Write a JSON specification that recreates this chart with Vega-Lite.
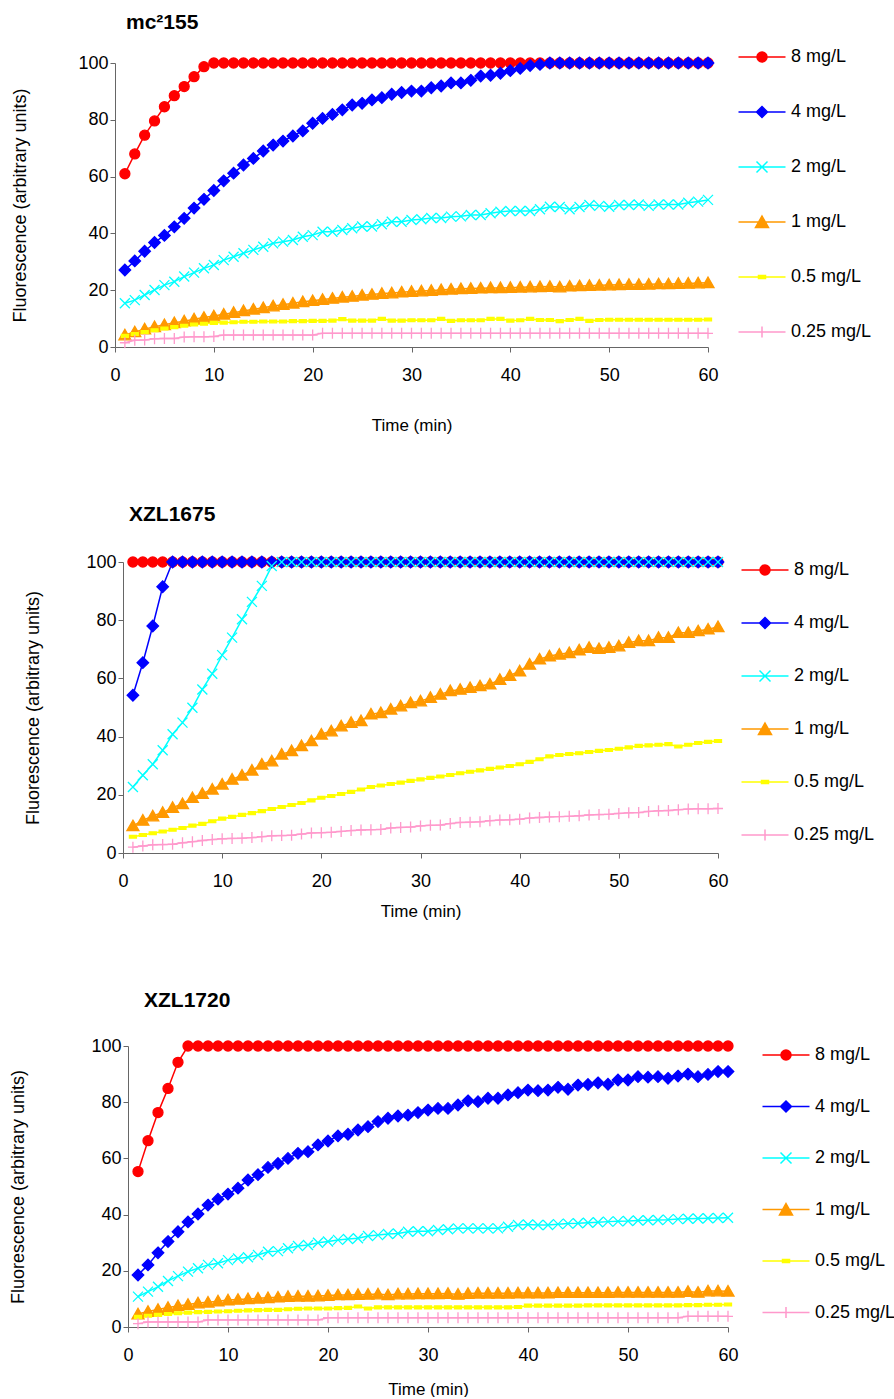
{
"$schema": "https://vega.github.io/schema/vega-lite/v6.json",
"background": "white",
"padding": {"left": 9, "top": 12, "right": 0, "bottom": 0},
"spacing": 71,
"columns": 1,
"config": {
  "font": "Liberation Sans",
  "view": {"stroke": null},
  "axis": {"labelFont": "Liberation Sans", "titleFont": "Liberation Sans", "labelFontSize": 18, "titleFontSize": 17, "titleFontWeight": "normal", "labelColor": "#000", "titleColor": "#000", "domainColor": "#666", "tickColor": "#666", "grid": false, "tickSize": 5, "labelFlush": false},
  "axisY": {"titleFontSize": 18},
  "title": {"font": "Liberation Sans", "fontSize": 21, "fontWeight": "bold", "color": "#000"}
},
"resolve": {"scale": {"x": "independent", "y": "independent", "color": "independent", "fill": "independent", "shape": "independent", "stroke": "independent"}, "legend": {"color": "independent", "fill": "independent", "shape": "independent"}},
"datasets": {
"p1": [
{"t":1,"c":"8","v":61},{"t":2,"c":"8","v":68},{"t":3,"c":"8","v":74.6},{"t":4,"c":"8","v":79.6},{"t":5,"c":"8","v":84.6},{"t":6,"c":"8","v":88.5},{"t":7,"c":"8","v":91.7},{"t":8,"c":"8","v":95.2},{"t":9,"c":"8","v":98.7},{"t":10,"c":"8","v":100},{"t":11,"c":"8","v":100},{"t":12,"c":"8","v":100},{"t":13,"c":"8","v":100},{"t":14,"c":"8","v":100},{"t":15,"c":"8","v":100},{"t":16,"c":"8","v":100},{"t":17,"c":"8","v":100},{"t":18,"c":"8","v":100},{"t":19,"c":"8","v":100},{"t":20,"c":"8","v":100},{"t":21,"c":"8","v":100},{"t":22,"c":"8","v":100},{"t":23,"c":"8","v":100},{"t":24,"c":"8","v":100},{"t":25,"c":"8","v":100},{"t":26,"c":"8","v":100},{"t":27,"c":"8","v":100},{"t":28,"c":"8","v":100},{"t":29,"c":"8","v":100},{"t":30,"c":"8","v":100},{"t":31,"c":"8","v":100},{"t":32,"c":"8","v":100},{"t":33,"c":"8","v":100},{"t":34,"c":"8","v":100},{"t":35,"c":"8","v":100},{"t":36,"c":"8","v":100},{"t":37,"c":"8","v":100},{"t":38,"c":"8","v":100},{"t":39,"c":"8","v":100},{"t":40,"c":"8","v":100},{"t":41,"c":"8","v":100},{"t":42,"c":"8","v":100},{"t":43,"c":"8","v":100},{"t":44,"c":"8","v":100},{"t":45,"c":"8","v":100},{"t":46,"c":"8","v":100},{"t":47,"c":"8","v":100},{"t":48,"c":"8","v":100},{"t":49,"c":"8","v":100},{"t":50,"c":"8","v":100},{"t":51,"c":"8","v":100},{"t":52,"c":"8","v":100},{"t":53,"c":"8","v":100},{"t":54,"c":"8","v":100},{"t":55,"c":"8","v":100},{"t":56,"c":"8","v":100},{"t":57,"c":"8","v":100},{"t":58,"c":"8","v":100},{"t":59,"c":"8","v":100},{"t":60,"c":"8","v":100},
{"t":1,"c":"4","v":27.1},{"t":2,"c":"4","v":30.3},{"t":3,"c":"4","v":33.7},{"t":4,"c":"4","v":36.8},{"t":5,"c":"4","v":39.3},{"t":6,"c":"4","v":42.3},{"t":7,"c":"4","v":45.3},{"t":8,"c":"4","v":48.9},{"t":9,"c":"4","v":52.0},{"t":10,"c":"4","v":55.1},{"t":11,"c":"4","v":58.5},{"t":12,"c":"4","v":61.2},{"t":13,"c":"4","v":64.1},{"t":14,"c":"4","v":66.4},{"t":15,"c":"4","v":69.0},{"t":16,"c":"4","v":71.1},{"t":17,"c":"4","v":72.5},{"t":18,"c":"4","v":74.3},{"t":19,"c":"4","v":76.1},{"t":20,"c":"4","v":78.8},{"t":21,"c":"4","v":80.5},{"t":22,"c":"4","v":81.9},{"t":23,"c":"4","v":83.5},{"t":24,"c":"4","v":85.2},{"t":25,"c":"4","v":85.8},{"t":26,"c":"4","v":87.0},{"t":27,"c":"4","v":87.8},{"t":28,"c":"4","v":89.0},{"t":29,"c":"4","v":89.6},{"t":30,"c":"4","v":90.1},{"t":31,"c":"4","v":90.1},{"t":32,"c":"4","v":91.3},{"t":33,"c":"4","v":91.9},{"t":34,"c":"4","v":93.0},{"t":35,"c":"4","v":93.0},{"t":36,"c":"4","v":93.9},{"t":37,"c":"4","v":95.4},{"t":38,"c":"4","v":95.7},{"t":39,"c":"4","v":96.4},{"t":40,"c":"4","v":97.3},{"t":41,"c":"4","v":98.1},{"t":42,"c":"4","v":99.1},{"t":43,"c":"4","v":99.5},{"t":44,"c":"4","v":100},{"t":45,"c":"4","v":100},{"t":46,"c":"4","v":100},{"t":47,"c":"4","v":100},{"t":48,"c":"4","v":100},{"t":49,"c":"4","v":100},{"t":50,"c":"4","v":100},{"t":51,"c":"4","v":100},{"t":52,"c":"4","v":100},{"t":53,"c":"4","v":100},{"t":54,"c":"4","v":100},{"t":55,"c":"4","v":100},{"t":56,"c":"4","v":100},{"t":57,"c":"4","v":100},{"t":58,"c":"4","v":100},{"t":59,"c":"4","v":100},{"t":60,"c":"4","v":100},
{"t":1,"c":"2","v":15.4},{"t":2,"c":"2","v":16.5},{"t":3,"c":"2","v":18.3},{"t":4,"c":"2","v":20.1},{"t":5,"c":"2","v":21.8},{"t":6,"c":"2","v":23.0},{"t":7,"c":"2","v":24.8},{"t":8,"c":"2","v":26.2},{"t":9,"c":"2","v":27.7},{"t":10,"c":"2","v":28.9},{"t":11,"c":"2","v":30.6},{"t":12,"c":"2","v":31.8},{"t":13,"c":"2","v":33.0},{"t":14,"c":"2","v":34.2},{"t":15,"c":"2","v":35.3},{"t":16,"c":"2","v":36.5},{"t":17,"c":"2","v":37.1},{"t":18,"c":"2","v":37.7},{"t":19,"c":"2","v":38.8},{"t":20,"c":"2","v":39.4},{"t":21,"c":"2","v":40.6},{"t":22,"c":"2","v":40.6},{"t":23,"c":"2","v":41.2},{"t":24,"c":"2","v":41.8},{"t":25,"c":"2","v":42.4},{"t":26,"c":"2","v":42.4},{"t":27,"c":"2","v":43.2},{"t":28,"c":"2","v":44.1},{"t":29,"c":"2","v":44.1},{"t":30,"c":"2","v":44.7},{"t":31,"c":"2","v":45.0},{"t":32,"c":"2","v":45.4},{"t":33,"c":"2","v":45.4},{"t":34,"c":"2","v":45.9},{"t":35,"c":"2","v":46.0},{"t":36,"c":"2","v":46.5},{"t":37,"c":"2","v":46.5},{"t":38,"c":"2","v":47.1},{"t":39,"c":"2","v":47.6},{"t":40,"c":"2","v":47.9},{"t":41,"c":"2","v":47.9},{"t":42,"c":"2","v":47.9},{"t":43,"c":"2","v":48.5},{"t":44,"c":"2","v":49.4},{"t":45,"c":"2","v":49.3},{"t":46,"c":"2","v":48.5},{"t":47,"c":"2","v":49.3},{"t":48,"c":"2","v":50.0},{"t":49,"c":"2","v":49.7},{"t":50,"c":"2","v":49.4},{"t":51,"c":"2","v":50.0},{"t":52,"c":"2","v":50.0},{"t":53,"c":"2","v":50.2},{"t":54,"c":"2","v":49.7},{"t":55,"c":"2","v":50.2},{"t":56,"c":"2","v":50.2},{"t":57,"c":"2","v":50.2},{"t":58,"c":"2","v":50.8},{"t":59,"c":"2","v":51.2},{"t":60,"c":"2","v":51.8},
{"t":1,"c":"1","v":4.2},{"t":2,"c":"1","v":5.3},{"t":3,"c":"1","v":6.3},{"t":4,"c":"1","v":7.1},{"t":5,"c":"1","v":7.8},{"t":6,"c":"1","v":8.5},{"t":7,"c":"1","v":9.1},{"t":8,"c":"1","v":9.8},{"t":9,"c":"1","v":10.4},{"t":10,"c":"1","v":10.9},{"t":11,"c":"1","v":11.5},{"t":12,"c":"1","v":12.1},{"t":13,"c":"1","v":12.7},{"t":14,"c":"1","v":13.3},{"t":15,"c":"1","v":13.8},{"t":16,"c":"1","v":14.4},{"t":17,"c":"1","v":14.9},{"t":18,"c":"1","v":15.4},{"t":19,"c":"1","v":15.9},{"t":20,"c":"1","v":16.3},{"t":21,"c":"1","v":16.7},{"t":22,"c":"1","v":17.1},{"t":23,"c":"1","v":17.5},{"t":24,"c":"1","v":17.8},{"t":25,"c":"1","v":18.2},{"t":26,"c":"1","v":18.5},{"t":27,"c":"1","v":18.8},{"t":28,"c":"1","v":19.0},{"t":29,"c":"1","v":19.3},{"t":30,"c":"1","v":19.5},{"t":31,"c":"1","v":19.7},{"t":32,"c":"1","v":19.9},{"t":33,"c":"1","v":20.1},{"t":34,"c":"1","v":20.3},{"t":35,"c":"1","v":20.5},{"t":36,"c":"1","v":20.6},{"t":37,"c":"1","v":20.7},{"t":38,"c":"1","v":20.8},{"t":39,"c":"1","v":20.8},{"t":40,"c":"1","v":20.9},{"t":41,"c":"1","v":21.0},{"t":42,"c":"1","v":21.1},{"t":43,"c":"1","v":21.2},{"t":44,"c":"1","v":21.3},{"t":45,"c":"1","v":21.1},{"t":46,"c":"1","v":21.4},{"t":47,"c":"1","v":21.5},{"t":48,"c":"1","v":21.6},{"t":49,"c":"1","v":21.7},{"t":50,"c":"1","v":21.8},{"t":51,"c":"1","v":21.9},{"t":52,"c":"1","v":22.0},{"t":53,"c":"1","v":22.0},{"t":54,"c":"1","v":22.1},{"t":55,"c":"1","v":22.2},{"t":56,"c":"1","v":22.2},{"t":57,"c":"1","v":22.3},{"t":58,"c":"1","v":22.4},{"t":59,"c":"1","v":22.5},{"t":60,"c":"1","v":22.6},
{"t":1,"c":"0.5","v":3.9},{"t":2,"c":"0.5","v":4.6},{"t":3,"c":"0.5","v":5.3},{"t":4,"c":"0.5","v":5.9},{"t":5,"c":"0.5","v":6.5},{"t":6,"c":"0.5","v":7.0},{"t":7,"c":"0.5","v":7.5},{"t":8,"c":"0.5","v":7.9},{"t":9,"c":"0.5","v":8.2},{"t":10,"c":"0.5","v":8.5},{"t":11,"c":"0.5","v":8.6},{"t":12,"c":"0.5","v":8.7},{"t":13,"c":"0.5","v":8.9},{"t":14,"c":"0.5","v":8.9},{"t":15,"c":"0.5","v":9.0},{"t":16,"c":"0.5","v":9.0},{"t":17,"c":"0.5","v":9.0},{"t":18,"c":"0.5","v":9.1},{"t":19,"c":"0.5","v":9.1},{"t":20,"c":"0.5","v":9.2},{"t":21,"c":"0.5","v":9.2},{"t":22,"c":"0.5","v":9.3},{"t":23,"c":"0.5","v":9.8},{"t":24,"c":"0.5","v":9.3},{"t":25,"c":"0.5","v":9.3},{"t":26,"c":"0.5","v":9.3},{"t":27,"c":"0.5","v":9.9},{"t":28,"c":"0.5","v":9.3},{"t":29,"c":"0.5","v":9.3},{"t":30,"c":"0.5","v":9.4},{"t":31,"c":"0.5","v":9.4},{"t":32,"c":"0.5","v":9.4},{"t":33,"c":"0.5","v":9.9},{"t":34,"c":"0.5","v":9.2},{"t":35,"c":"0.5","v":9.4},{"t":36,"c":"0.5","v":9.4},{"t":37,"c":"0.5","v":9.4},{"t":38,"c":"0.5","v":9.9},{"t":39,"c":"0.5","v":9.9},{"t":40,"c":"0.5","v":9.3},{"t":41,"c":"0.5","v":9.4},{"t":42,"c":"0.5","v":9.9},{"t":43,"c":"0.5","v":9.5},{"t":44,"c":"0.5","v":9.5},{"t":45,"c":"0.5","v":9.1},{"t":46,"c":"0.5","v":9.5},{"t":47,"c":"0.5","v":9.9},{"t":48,"c":"0.5","v":9.2},{"t":49,"c":"0.5","v":9.5},{"t":50,"c":"0.5","v":9.6},{"t":51,"c":"0.5","v":9.6},{"t":52,"c":"0.5","v":9.6},{"t":53,"c":"0.5","v":9.6},{"t":54,"c":"0.5","v":9.6},{"t":55,"c":"0.5","v":9.6},{"t":56,"c":"0.5","v":9.6},{"t":57,"c":"0.5","v":9.6},{"t":58,"c":"0.5","v":9.6},{"t":59,"c":"0.5","v":9.6},{"t":60,"c":"0.5","v":9.7},
{"t":1,"c":"0.25","v":1.5},{"t":2,"c":"0.25","v":2.4},{"t":3,"c":"0.25","v":2.5},{"t":4,"c":"0.25","v":2.9},{"t":5,"c":"0.25","v":3.0},{"t":6,"c":"0.25","v":3.0},{"t":7,"c":"0.25","v":3.5},{"t":8,"c":"0.25","v":3.6},{"t":9,"c":"0.25","v":3.6},{"t":10,"c":"0.25","v":3.7},{"t":11,"c":"0.25","v":4.2},{"t":12,"c":"0.25","v":4.2},{"t":13,"c":"0.25","v":4.2},{"t":14,"c":"0.25","v":4.2},{"t":15,"c":"0.25","v":4.2},{"t":16,"c":"0.25","v":4.2},{"t":17,"c":"0.25","v":4.2},{"t":18,"c":"0.25","v":4.2},{"t":19,"c":"0.25","v":4.2},{"t":20,"c":"0.25","v":4.2},{"t":21,"c":"0.25","v":4.8},{"t":22,"c":"0.25","v":4.8},{"t":23,"c":"0.25","v":4.8},{"t":24,"c":"0.25","v":4.8},{"t":25,"c":"0.25","v":4.8},{"t":26,"c":"0.25","v":4.8},{"t":27,"c":"0.25","v":4.8},{"t":28,"c":"0.25","v":4.8},{"t":29,"c":"0.25","v":4.8},{"t":30,"c":"0.25","v":4.8},{"t":31,"c":"0.25","v":4.8},{"t":32,"c":"0.25","v":4.8},{"t":33,"c":"0.25","v":4.8},{"t":34,"c":"0.25","v":4.8},{"t":35,"c":"0.25","v":4.8},{"t":36,"c":"0.25","v":4.8},{"t":37,"c":"0.25","v":4.8},{"t":38,"c":"0.25","v":4.8},{"t":39,"c":"0.25","v":4.8},{"t":40,"c":"0.25","v":4.8},{"t":41,"c":"0.25","v":4.8},{"t":42,"c":"0.25","v":4.8},{"t":43,"c":"0.25","v":4.8},{"t":44,"c":"0.25","v":4.8},{"t":45,"c":"0.25","v":4.8},{"t":46,"c":"0.25","v":4.8},{"t":47,"c":"0.25","v":4.8},{"t":48,"c":"0.25","v":4.8},{"t":49,"c":"0.25","v":4.8},{"t":50,"c":"0.25","v":4.8},{"t":51,"c":"0.25","v":4.8},{"t":52,"c":"0.25","v":4.8},{"t":53,"c":"0.25","v":4.8},{"t":54,"c":"0.25","v":4.8},{"t":55,"c":"0.25","v":4.8},{"t":56,"c":"0.25","v":4.8},{"t":57,"c":"0.25","v":4.8},{"t":58,"c":"0.25","v":4.8},{"t":59,"c":"0.25","v":4.8},{"t":60,"c":"0.25","v":4.8}
],
"p2": [
{"t":1,"c":"8","v":100},{"t":2,"c":"8","v":100},{"t":3,"c":"8","v":100},{"t":4,"c":"8","v":100},{"t":5,"c":"8","v":100},{"t":6,"c":"8","v":100},{"t":7,"c":"8","v":100},{"t":8,"c":"8","v":100},{"t":9,"c":"8","v":100},{"t":10,"c":"8","v":100},{"t":11,"c":"8","v":100},{"t":12,"c":"8","v":100},{"t":13,"c":"8","v":100},{"t":14,"c":"8","v":100},{"t":15,"c":"8","v":100},{"t":16,"c":"8","v":100},{"t":17,"c":"8","v":100},{"t":18,"c":"8","v":100},{"t":19,"c":"8","v":100},{"t":20,"c":"8","v":100},{"t":21,"c":"8","v":100},{"t":22,"c":"8","v":100},{"t":23,"c":"8","v":100},{"t":24,"c":"8","v":100},{"t":25,"c":"8","v":100},{"t":26,"c":"8","v":100},{"t":27,"c":"8","v":100},{"t":28,"c":"8","v":100},{"t":29,"c":"8","v":100},{"t":30,"c":"8","v":100},{"t":31,"c":"8","v":100},{"t":32,"c":"8","v":100},{"t":33,"c":"8","v":100},{"t":34,"c":"8","v":100},{"t":35,"c":"8","v":100},{"t":36,"c":"8","v":100},{"t":37,"c":"8","v":100},{"t":38,"c":"8","v":100},{"t":39,"c":"8","v":100},{"t":40,"c":"8","v":100},{"t":41,"c":"8","v":100},{"t":42,"c":"8","v":100},{"t":43,"c":"8","v":100},{"t":44,"c":"8","v":100},{"t":45,"c":"8","v":100},{"t":46,"c":"8","v":100},{"t":47,"c":"8","v":100},{"t":48,"c":"8","v":100},{"t":49,"c":"8","v":100},{"t":50,"c":"8","v":100},{"t":51,"c":"8","v":100},{"t":52,"c":"8","v":100},{"t":53,"c":"8","v":100},{"t":54,"c":"8","v":100},{"t":55,"c":"8","v":100},{"t":56,"c":"8","v":100},{"t":57,"c":"8","v":100},{"t":58,"c":"8","v":100},{"t":59,"c":"8","v":100},{"t":60,"c":"8","v":100},
{"t":1,"c":"4","v":54.2},{"t":2,"c":"4","v":65.4},{"t":3,"c":"4","v":78.0},{"t":4,"c":"4","v":91.5},{"t":5,"c":"4","v":100},{"t":6,"c":"4","v":100},{"t":7,"c":"4","v":100},{"t":8,"c":"4","v":100},{"t":9,"c":"4","v":100},{"t":10,"c":"4","v":100},{"t":11,"c":"4","v":100},{"t":12,"c":"4","v":100},{"t":13,"c":"4","v":100},{"t":14,"c":"4","v":100},{"t":15,"c":"4","v":100},{"t":16,"c":"4","v":100},{"t":17,"c":"4","v":100},{"t":18,"c":"4","v":100},{"t":19,"c":"4","v":100},{"t":20,"c":"4","v":100},{"t":21,"c":"4","v":100},{"t":22,"c":"4","v":100},{"t":23,"c":"4","v":100},{"t":24,"c":"4","v":100},{"t":25,"c":"4","v":100},{"t":26,"c":"4","v":100},{"t":27,"c":"4","v":100},{"t":28,"c":"4","v":100},{"t":29,"c":"4","v":100},{"t":30,"c":"4","v":100},{"t":31,"c":"4","v":100},{"t":32,"c":"4","v":100},{"t":33,"c":"4","v":100},{"t":34,"c":"4","v":100},{"t":35,"c":"4","v":100},{"t":36,"c":"4","v":100},{"t":37,"c":"4","v":100},{"t":38,"c":"4","v":100},{"t":39,"c":"4","v":100},{"t":40,"c":"4","v":100},{"t":41,"c":"4","v":100},{"t":42,"c":"4","v":100},{"t":43,"c":"4","v":100},{"t":44,"c":"4","v":100},{"t":45,"c":"4","v":100},{"t":46,"c":"4","v":100},{"t":47,"c":"4","v":100},{"t":48,"c":"4","v":100},{"t":49,"c":"4","v":100},{"t":50,"c":"4","v":100},{"t":51,"c":"4","v":100},{"t":52,"c":"4","v":100},{"t":53,"c":"4","v":100},{"t":54,"c":"4","v":100},{"t":55,"c":"4","v":100},{"t":56,"c":"4","v":100},{"t":57,"c":"4","v":100},{"t":58,"c":"4","v":100},{"t":59,"c":"4","v":100},{"t":60,"c":"4","v":100},
{"t":1,"c":"2","v":22.7},{"t":2,"c":"2","v":26.7},{"t":3,"c":"2","v":30.5},{"t":4,"c":"2","v":35.3},{"t":5,"c":"2","v":40.8},{"t":6,"c":"2","v":44.8},{"t":7,"c":"2","v":49.9},{"t":8,"c":"2","v":56.2},{"t":9,"c":"2","v":61.6},{"t":10,"c":"2","v":68.0},{"t":11,"c":"2","v":74.0},{"t":12,"c":"2","v":80.3},{"t":13,"c":"2","v":86.3},{"t":14,"c":"2","v":91.8},{"t":15,"c":"2","v":98.6},{"t":16,"c":"2","v":100},{"t":17,"c":"2","v":100},{"t":18,"c":"2","v":100},{"t":19,"c":"2","v":100},{"t":20,"c":"2","v":100},{"t":21,"c":"2","v":100},{"t":22,"c":"2","v":100},{"t":23,"c":"2","v":100},{"t":24,"c":"2","v":100},{"t":25,"c":"2","v":100},{"t":26,"c":"2","v":100},{"t":27,"c":"2","v":100},{"t":28,"c":"2","v":100},{"t":29,"c":"2","v":100},{"t":30,"c":"2","v":100},{"t":31,"c":"2","v":100},{"t":32,"c":"2","v":100},{"t":33,"c":"2","v":100},{"t":34,"c":"2","v":100},{"t":35,"c":"2","v":100},{"t":36,"c":"2","v":100},{"t":37,"c":"2","v":100},{"t":38,"c":"2","v":100},{"t":39,"c":"2","v":100},{"t":40,"c":"2","v":100},{"t":41,"c":"2","v":100},{"t":42,"c":"2","v":100},{"t":43,"c":"2","v":100},{"t":44,"c":"2","v":100},{"t":45,"c":"2","v":100},{"t":46,"c":"2","v":100},{"t":47,"c":"2","v":100},{"t":48,"c":"2","v":100},{"t":49,"c":"2","v":100},{"t":50,"c":"2","v":100},{"t":51,"c":"2","v":100},{"t":52,"c":"2","v":100},{"t":53,"c":"2","v":100},{"t":54,"c":"2","v":100},{"t":55,"c":"2","v":100},{"t":56,"c":"2","v":100},{"t":57,"c":"2","v":100},{"t":58,"c":"2","v":100},{"t":59,"c":"2","v":100},{"t":60,"c":"2","v":100},
{"t":1,"c":"1","v":9.3},{"t":2,"c":"1","v":11.2},{"t":3,"c":"1","v":12.7},{"t":4,"c":"1","v":13.9},{"t":5,"c":"1","v":15.6},{"t":6,"c":"1","v":16.9},{"t":7,"c":"1","v":19.0},{"t":8,"c":"1","v":20.4},{"t":9,"c":"1","v":21.9},{"t":10,"c":"1","v":23.6},{"t":11,"c":"1","v":25.3},{"t":12,"c":"1","v":26.7},{"t":13,"c":"1","v":28.4},{"t":14,"c":"1","v":30.5},{"t":15,"c":"1","v":31.6},{"t":16,"c":"1","v":33.9},{"t":17,"c":"1","v":35.1},{"t":18,"c":"1","v":36.8},{"t":19,"c":"1","v":38.5},{"t":20,"c":"1","v":40.8},{"t":21,"c":"1","v":41.9},{"t":22,"c":"1","v":43.6},{"t":23,"c":"1","v":44.8},{"t":24,"c":"1","v":45.4},{"t":25,"c":"1","v":47.7},{"t":26,"c":"1","v":48.2},{"t":27,"c":"1","v":49.4},{"t":28,"c":"1","v":50.5},{"t":29,"c":"1","v":51.6},{"t":30,"c":"1","v":52.2},{"t":31,"c":"1","v":53.4},{"t":32,"c":"1","v":54.5},{"t":33,"c":"1","v":55.7},{"t":34,"c":"1","v":56.2},{"t":35,"c":"1","v":56.8},{"t":36,"c":"1","v":57.4},{"t":37,"c":"1","v":58.0},{"t":38,"c":"1","v":59.6},{"t":39,"c":"1","v":61.0},{"t":40,"c":"1","v":62.5},{"t":41,"c":"1","v":64.8},{"t":42,"c":"1","v":66.6},{"t":43,"c":"1","v":67.7},{"t":44,"c":"1","v":68.3},{"t":45,"c":"1","v":68.8},{"t":46,"c":"1","v":69.7},{"t":47,"c":"1","v":70.6},{"t":48,"c":"1","v":70.2},{"t":49,"c":"1","v":70.6},{"t":50,"c":"1","v":71.1},{"t":51,"c":"1","v":72.3},{"t":52,"c":"1","v":72.9},{"t":53,"c":"1","v":72.9},{"t":54,"c":"1","v":74.0},{"t":55,"c":"1","v":74.0},{"t":56,"c":"1","v":75.7},{"t":57,"c":"1","v":75.7},{"t":58,"c":"1","v":76.3},{"t":59,"c":"1","v":76.9},{"t":60,"c":"1","v":77.7},
{"t":1,"c":"0.5","v":5.6},{"t":2,"c":"0.5","v":6.2},{"t":3,"c":"0.5","v":6.8},{"t":4,"c":"0.5","v":7.4},{"t":5,"c":"0.5","v":8.0},{"t":6,"c":"0.5","v":8.6},{"t":7,"c":"0.5","v":9.4},{"t":8,"c":"0.5","v":10.0},{"t":9,"c":"0.5","v":10.9},{"t":10,"c":"0.5","v":11.8},{"t":11,"c":"0.5","v":12.4},{"t":12,"c":"0.5","v":13.1},{"t":13,"c":"0.5","v":13.7},{"t":14,"c":"0.5","v":14.4},{"t":15,"c":"0.5","v":15.1},{"t":16,"c":"0.5","v":15.8},{"t":17,"c":"0.5","v":16.5},{"t":18,"c":"0.5","v":17.2},{"t":19,"c":"0.5","v":18.1},{"t":20,"c":"0.5","v":19.0},{"t":21,"c":"0.5","v":19.6},{"t":22,"c":"0.5","v":20.3},{"t":23,"c":"0.5","v":21.0},{"t":24,"c":"0.5","v":21.8},{"t":25,"c":"0.5","v":22.7},{"t":26,"c":"0.5","v":23.2},{"t":27,"c":"0.5","v":23.7},{"t":28,"c":"0.5","v":24.2},{"t":29,"c":"0.5","v":24.8},{"t":30,"c":"0.5","v":25.3},{"t":31,"c":"0.5","v":25.8},{"t":32,"c":"0.5","v":26.3},{"t":33,"c":"0.5","v":26.8},{"t":34,"c":"0.5","v":27.4},{"t":35,"c":"0.5","v":27.9},{"t":36,"c":"0.5","v":28.4},{"t":37,"c":"0.5","v":28.9},{"t":38,"c":"0.5","v":29.4},{"t":39,"c":"0.5","v":29.9},{"t":40,"c":"0.5","v":30.5},{"t":41,"c":"0.5","v":31.3},{"t":42,"c":"0.5","v":32.2},{"t":43,"c":"0.5","v":33.2},{"t":44,"c":"0.5","v":33.7},{"t":45,"c":"0.5","v":34.0},{"t":46,"c":"0.5","v":34.3},{"t":47,"c":"0.5","v":34.7},{"t":48,"c":"0.5","v":35.1},{"t":49,"c":"0.5","v":35.4},{"t":50,"c":"0.5","v":35.8},{"t":51,"c":"0.5","v":36.3},{"t":52,"c":"0.5","v":36.8},{"t":53,"c":"0.5","v":37.0},{"t":54,"c":"0.5","v":37.2},{"t":55,"c":"0.5","v":37.4},{"t":56,"c":"0.5","v":36.6},{"t":57,"c":"0.5","v":37.2},{"t":58,"c":"0.5","v":37.8},{"t":59,"c":"0.5","v":38.2},{"t":60,"c":"0.5","v":38.5},
{"t":1,"c":"0.25","v":2.0},{"t":2,"c":"0.25","v":2.4},{"t":3,"c":"0.25","v":2.8},{"t":4,"c":"0.25","v":2.9},{"t":5,"c":"0.25","v":3.0},{"t":6,"c":"0.25","v":3.5},{"t":7,"c":"0.25","v":3.9},{"t":8,"c":"0.25","v":4.3},{"t":9,"c":"0.25","v":4.6},{"t":10,"c":"0.25","v":4.9},{"t":11,"c":"0.25","v":5.0},{"t":12,"c":"0.25","v":5.1},{"t":13,"c":"0.25","v":5.3},{"t":14,"c":"0.25","v":5.6},{"t":15,"c":"0.25","v":5.9},{"t":16,"c":"0.25","v":6.0},{"t":17,"c":"0.25","v":6.1},{"t":18,"c":"0.25","v":6.5},{"t":19,"c":"0.25","v":6.9},{"t":20,"c":"0.25","v":7.0},{"t":21,"c":"0.25","v":7.1},{"t":22,"c":"0.25","v":7.4},{"t":23,"c":"0.25","v":7.7},{"t":24,"c":"0.25","v":7.9},{"t":25,"c":"0.25","v":8.0},{"t":26,"c":"0.25","v":8.1},{"t":27,"c":"0.25","v":8.6},{"t":28,"c":"0.25","v":8.8},{"t":29,"c":"0.25","v":8.9},{"t":30,"c":"0.25","v":9.3},{"t":31,"c":"0.25","v":9.5},{"t":32,"c":"0.25","v":9.6},{"t":33,"c":"0.25","v":10.1},{"t":34,"c":"0.25","v":10.5},{"t":35,"c":"0.25","v":10.6},{"t":36,"c":"0.25","v":10.7},{"t":37,"c":"0.25","v":11.1},{"t":38,"c":"0.25","v":11.3},{"t":39,"c":"0.25","v":11.4},{"t":40,"c":"0.25","v":11.6},{"t":41,"c":"0.25","v":12.0},{"t":42,"c":"0.25","v":12.2},{"t":43,"c":"0.25","v":12.4},{"t":44,"c":"0.25","v":12.5},{"t":45,"c":"0.25","v":12.6},{"t":46,"c":"0.25","v":12.8},{"t":47,"c":"0.25","v":13.1},{"t":48,"c":"0.25","v":13.2},{"t":49,"c":"0.25","v":13.3},{"t":50,"c":"0.25","v":13.6},{"t":51,"c":"0.25","v":13.8},{"t":52,"c":"0.25","v":13.9},{"t":53,"c":"0.25","v":14.3},{"t":54,"c":"0.25","v":14.5},{"t":55,"c":"0.25","v":14.6},{"t":56,"c":"0.25","v":14.9},{"t":57,"c":"0.25","v":15.1},{"t":58,"c":"0.25","v":15.2},{"t":59,"c":"0.25","v":15.2},{"t":60,"c":"0.25","v":15.3}
],
"p3": [
{"t":1,"c":"8","v":55.3},{"t":2,"c":"8","v":66.3},{"t":3,"c":"8","v":76.3},{"t":4,"c":"8","v":84.9},{"t":5,"c":"8","v":94.2},{"t":6,"c":"8","v":100},{"t":7,"c":"8","v":100},{"t":8,"c":"8","v":100},{"t":9,"c":"8","v":100},{"t":10,"c":"8","v":100},{"t":11,"c":"8","v":100},{"t":12,"c":"8","v":100},{"t":13,"c":"8","v":100},{"t":14,"c":"8","v":100},{"t":15,"c":"8","v":100},{"t":16,"c":"8","v":100},{"t":17,"c":"8","v":100},{"t":18,"c":"8","v":100},{"t":19,"c":"8","v":100},{"t":20,"c":"8","v":100},{"t":21,"c":"8","v":100},{"t":22,"c":"8","v":100},{"t":23,"c":"8","v":100},{"t":24,"c":"8","v":100},{"t":25,"c":"8","v":100},{"t":26,"c":"8","v":100},{"t":27,"c":"8","v":100},{"t":28,"c":"8","v":100},{"t":29,"c":"8","v":100},{"t":30,"c":"8","v":100},{"t":31,"c":"8","v":100},{"t":32,"c":"8","v":100},{"t":33,"c":"8","v":100},{"t":34,"c":"8","v":100},{"t":35,"c":"8","v":100},{"t":36,"c":"8","v":100},{"t":37,"c":"8","v":100},{"t":38,"c":"8","v":100},{"t":39,"c":"8","v":100},{"t":40,"c":"8","v":100},{"t":41,"c":"8","v":100},{"t":42,"c":"8","v":100},{"t":43,"c":"8","v":100},{"t":44,"c":"8","v":100},{"t":45,"c":"8","v":100},{"t":46,"c":"8","v":100},{"t":47,"c":"8","v":100},{"t":48,"c":"8","v":100},{"t":49,"c":"8","v":100},{"t":50,"c":"8","v":100},{"t":51,"c":"8","v":100},{"t":52,"c":"8","v":100},{"t":53,"c":"8","v":100},{"t":54,"c":"8","v":100},{"t":55,"c":"8","v":100},{"t":56,"c":"8","v":100},{"t":57,"c":"8","v":100},{"t":58,"c":"8","v":100},{"t":59,"c":"8","v":100},{"t":60,"c":"8","v":100},
{"t":1,"c":"4","v":18.5},{"t":2,"c":"4","v":22.1},{"t":3,"c":"4","v":26.4},{"t":4,"c":"4","v":30.4},{"t":5,"c":"4","v":33.9},{"t":6,"c":"4","v":37.4},{"t":7,"c":"4","v":40.2},{"t":8,"c":"4","v":43.4},{"t":9,"c":"4","v":45.5},{"t":10,"c":"4","v":47.3},{"t":11,"c":"4","v":49.4},{"t":12,"c":"4","v":52.3},{"t":13,"c":"4","v":54.2},{"t":14,"c":"4","v":56.8},{"t":15,"c":"4","v":58.2},{"t":16,"c":"4","v":60.0},{"t":17,"c":"4","v":61.8},{"t":18,"c":"4","v":62.4},{"t":19,"c":"4","v":64.8},{"t":20,"c":"4","v":66.2},{"t":21,"c":"4","v":68.0},{"t":22,"c":"4","v":68.6},{"t":23,"c":"4","v":70.1},{"t":24,"c":"4","v":71.3},{"t":25,"c":"4","v":73.1},{"t":26,"c":"4","v":74.3},{"t":27,"c":"4","v":75.1},{"t":28,"c":"4","v":75.4},{"t":29,"c":"4","v":76.3},{"t":30,"c":"4","v":77.2},{"t":31,"c":"4","v":77.8},{"t":32,"c":"4","v":77.8},{"t":33,"c":"4","v":79.0},{"t":34,"c":"4","v":80.5},{"t":35,"c":"4","v":80.2},{"t":36,"c":"4","v":81.4},{"t":37,"c":"4","v":81.4},{"t":38,"c":"4","v":82.6},{"t":39,"c":"4","v":83.4},{"t":40,"c":"4","v":84.3},{"t":41,"c":"4","v":84.1},{"t":42,"c":"4","v":84.3},{"t":43,"c":"4","v":85.3},{"t":44,"c":"4","v":84.6},{"t":45,"c":"4","v":86.1},{"t":46,"c":"4","v":86.3},{"t":47,"c":"4","v":86.9},{"t":48,"c":"4","v":86.4},{"t":49,"c":"4","v":87.9},{"t":50,"c":"4","v":87.9},{"t":51,"c":"4","v":89.1},{"t":52,"c":"4","v":88.9},{"t":53,"c":"4","v":89.1},{"t":54,"c":"4","v":88.5},{"t":55,"c":"4","v":89.3},{"t":56,"c":"4","v":90.0},{"t":57,"c":"4","v":89.1},{"t":58,"c":"4","v":89.9},{"t":59,"c":"4","v":90.9},{"t":60,"c":"4","v":90.9},
{"t":1,"c":"2","v":10.8},{"t":2,"c":"2","v":12.6},{"t":3,"c":"2","v":14.3},{"t":4,"c":"2","v":16.4},{"t":5,"c":"2","v":18.1},{"t":6,"c":"2","v":19.7},{"t":7,"c":"2","v":20.9},{"t":8,"c":"2","v":22.1},{"t":9,"c":"2","v":22.7},{"t":10,"c":"2","v":23.8},{"t":11,"c":"2","v":24.4},{"t":12,"c":"2","v":24.8},{"t":13,"c":"2","v":25.6},{"t":14,"c":"2","v":26.8},{"t":15,"c":"2","v":27.0},{"t":16,"c":"2","v":28.0},{"t":17,"c":"2","v":28.8},{"t":18,"c":"2","v":29.2},{"t":19,"c":"2","v":30.0},{"t":20,"c":"2","v":30.4},{"t":21,"c":"2","v":31.0},{"t":22,"c":"2","v":31.3},{"t":23,"c":"2","v":31.6},{"t":24,"c":"2","v":32.4},{"t":25,"c":"2","v":32.7},{"t":26,"c":"2","v":33.1},{"t":27,"c":"2","v":33.3},{"t":28,"c":"2","v":33.9},{"t":29,"c":"2","v":34.1},{"t":30,"c":"2","v":34.1},{"t":31,"c":"2","v":34.5},{"t":32,"c":"2","v":34.8},{"t":33,"c":"2","v":35.1},{"t":34,"c":"2","v":35.1},{"t":35,"c":"2","v":35.1},{"t":36,"c":"2","v":35.1},{"t":37,"c":"2","v":35.1},{"t":38,"c":"2","v":35.7},{"t":39,"c":"2","v":36.3},{"t":40,"c":"2","v":36.5},{"t":41,"c":"2","v":36.3},{"t":42,"c":"2","v":36.3},{"t":43,"c":"2","v":36.6},{"t":44,"c":"2","v":36.8},{"t":45,"c":"2","v":36.9},{"t":46,"c":"2","v":37.1},{"t":47,"c":"2","v":37.3},{"t":48,"c":"2","v":37.5},{"t":49,"c":"2","v":37.6},{"t":50,"c":"2","v":37.7},{"t":51,"c":"2","v":37.9},{"t":52,"c":"2","v":38.0},{"t":53,"c":"2","v":38.1},{"t":54,"c":"2","v":38.2},{"t":55,"c":"2","v":38.4},{"t":56,"c":"2","v":38.5},{"t":57,"c":"2","v":38.6},{"t":58,"c":"2","v":38.7},{"t":59,"c":"2","v":38.8},{"t":60,"c":"2","v":38.9},
{"t":1,"c":"1","v":4.6},{"t":2,"c":"1","v":5.5},{"t":3,"c":"1","v":6.2},{"t":4,"c":"1","v":6.9},{"t":5,"c":"1","v":7.5},{"t":6,"c":"1","v":8.0},{"t":7,"c":"1","v":8.5},{"t":8,"c":"1","v":8.8},{"t":9,"c":"1","v":9.2},{"t":10,"c":"1","v":9.6},{"t":11,"c":"1","v":9.8},{"t":12,"c":"1","v":10.0},{"t":13,"c":"1","v":10.2},{"t":14,"c":"1","v":10.4},{"t":15,"c":"1","v":10.6},{"t":16,"c":"1","v":10.8},{"t":17,"c":"1","v":10.9},{"t":18,"c":"1","v":10.9},{"t":19,"c":"1","v":11.0},{"t":20,"c":"1","v":11.2},{"t":21,"c":"1","v":11.4},{"t":22,"c":"1","v":11.4},{"t":23,"c":"1","v":11.5},{"t":24,"c":"1","v":11.6},{"t":25,"c":"1","v":11.7},{"t":26,"c":"1","v":11.4},{"t":27,"c":"1","v":11.7},{"t":28,"c":"1","v":11.7},{"t":29,"c":"1","v":11.8},{"t":30,"c":"1","v":11.8},{"t":31,"c":"1","v":11.8},{"t":32,"c":"1","v":11.9},{"t":33,"c":"1","v":11.6},{"t":34,"c":"1","v":11.9},{"t":35,"c":"1","v":12.0},{"t":36,"c":"1","v":12.0},{"t":37,"c":"1","v":12.0},{"t":38,"c":"1","v":12.0},{"t":39,"c":"1","v":12.1},{"t":40,"c":"1","v":12.1},{"t":41,"c":"1","v":12.1},{"t":42,"c":"1","v":12.1},{"t":43,"c":"1","v":12.2},{"t":44,"c":"1","v":12.2},{"t":45,"c":"1","v":12.2},{"t":46,"c":"1","v":12.2},{"t":47,"c":"1","v":12.2},{"t":48,"c":"1","v":12.2},{"t":49,"c":"1","v":12.3},{"t":50,"c":"1","v":12.3},{"t":51,"c":"1","v":12.3},{"t":52,"c":"1","v":12.3},{"t":53,"c":"1","v":12.3},{"t":54,"c":"1","v":12.3},{"t":55,"c":"1","v":12.3},{"t":56,"c":"1","v":12.6},{"t":57,"c":"1","v":12.3},{"t":58,"c":"1","v":12.8},{"t":59,"c":"1","v":12.8},{"t":60,"c":"1","v":12.7},
{"t":1,"c":"0.5","v":3.6},{"t":2,"c":"0.5","v":4.0},{"t":3,"c":"0.5","v":4.3},{"t":4,"c":"0.5","v":4.6},{"t":5,"c":"0.5","v":4.9},{"t":6,"c":"0.5","v":5.1},{"t":7,"c":"0.5","v":5.3},{"t":8,"c":"0.5","v":5.4},{"t":9,"c":"0.5","v":5.5},{"t":10,"c":"0.5","v":5.6},{"t":11,"c":"0.5","v":5.8},{"t":12,"c":"0.5","v":5.9},{"t":13,"c":"0.5","v":6.0},{"t":14,"c":"0.5","v":6.1},{"t":15,"c":"0.5","v":6.1},{"t":16,"c":"0.5","v":6.3},{"t":17,"c":"0.5","v":6.5},{"t":18,"c":"0.5","v":6.6},{"t":19,"c":"0.5","v":6.6},{"t":20,"c":"0.5","v":6.6},{"t":21,"c":"0.5","v":6.7},{"t":22,"c":"0.5","v":6.8},{"t":23,"c":"0.5","v":7.3},{"t":24,"c":"0.5","v":6.6},{"t":25,"c":"0.5","v":7.0},{"t":26,"c":"0.5","v":7.0},{"t":27,"c":"0.5","v":7.0},{"t":28,"c":"0.5","v":7.0},{"t":29,"c":"0.5","v":7.0},{"t":30,"c":"0.5","v":7.0},{"t":31,"c":"0.5","v":7.0},{"t":32,"c":"0.5","v":7.0},{"t":33,"c":"0.5","v":7.0},{"t":34,"c":"0.5","v":7.0},{"t":35,"c":"0.5","v":7.0},{"t":36,"c":"0.5","v":7.0},{"t":37,"c":"0.5","v":7.0},{"t":38,"c":"0.5","v":7.0},{"t":39,"c":"0.5","v":7.1},{"t":40,"c":"0.5","v":7.6},{"t":41,"c":"0.5","v":7.6},{"t":42,"c":"0.5","v":7.6},{"t":43,"c":"0.5","v":7.6},{"t":44,"c":"0.5","v":7.6},{"t":45,"c":"0.5","v":7.6},{"t":46,"c":"0.5","v":7.7},{"t":47,"c":"0.5","v":7.7},{"t":48,"c":"0.5","v":7.7},{"t":49,"c":"0.5","v":7.7},{"t":50,"c":"0.5","v":7.7},{"t":51,"c":"0.5","v":7.7},{"t":52,"c":"0.5","v":7.7},{"t":53,"c":"0.5","v":7.7},{"t":54,"c":"0.5","v":7.7},{"t":55,"c":"0.5","v":7.7},{"t":56,"c":"0.5","v":7.8},{"t":57,"c":"0.5","v":7.8},{"t":58,"c":"0.5","v":7.9},{"t":59,"c":"0.5","v":7.9},{"t":60,"c":"0.5","v":8.0},
{"t":1,"c":"0.25","v":1.2},{"t":2,"c":"0.25","v":1.8},{"t":3,"c":"0.25","v":1.8},{"t":4,"c":"0.25","v":1.8},{"t":5,"c":"0.25","v":1.8},{"t":6,"c":"0.25","v":1.8},{"t":7,"c":"0.25","v":1.8},{"t":8,"c":"0.25","v":2.5},{"t":9,"c":"0.25","v":2.5},{"t":10,"c":"0.25","v":2.5},{"t":11,"c":"0.25","v":2.5},{"t":12,"c":"0.25","v":2.5},{"t":13,"c":"0.25","v":2.5},{"t":14,"c":"0.25","v":2.5},{"t":15,"c":"0.25","v":2.5},{"t":16,"c":"0.25","v":2.5},{"t":17,"c":"0.25","v":2.5},{"t":18,"c":"0.25","v":2.5},{"t":19,"c":"0.25","v":2.5},{"t":20,"c":"0.25","v":3.3},{"t":21,"c":"0.25","v":3.3},{"t":22,"c":"0.25","v":3.3},{"t":23,"c":"0.25","v":3.3},{"t":24,"c":"0.25","v":3.3},{"t":25,"c":"0.25","v":3.3},{"t":26,"c":"0.25","v":3.3},{"t":27,"c":"0.25","v":3.3},{"t":28,"c":"0.25","v":3.3},{"t":29,"c":"0.25","v":3.3},{"t":30,"c":"0.25","v":3.3},{"t":31,"c":"0.25","v":3.3},{"t":32,"c":"0.25","v":3.3},{"t":33,"c":"0.25","v":3.3},{"t":34,"c":"0.25","v":3.3},{"t":35,"c":"0.25","v":3.3},{"t":36,"c":"0.25","v":3.3},{"t":37,"c":"0.25","v":3.3},{"t":38,"c":"0.25","v":3.3},{"t":39,"c":"0.25","v":3.3},{"t":40,"c":"0.25","v":3.3},{"t":41,"c":"0.25","v":3.3},{"t":42,"c":"0.25","v":3.3},{"t":43,"c":"0.25","v":3.3},{"t":44,"c":"0.25","v":3.3},{"t":45,"c":"0.25","v":3.3},{"t":46,"c":"0.25","v":3.3},{"t":47,"c":"0.25","v":3.3},{"t":48,"c":"0.25","v":3.3},{"t":49,"c":"0.25","v":3.3},{"t":50,"c":"0.25","v":3.3},{"t":51,"c":"0.25","v":3.3},{"t":52,"c":"0.25","v":3.3},{"t":53,"c":"0.25","v":3.3},{"t":54,"c":"0.25","v":3.3},{"t":55,"c":"0.25","v":3.3},{"t":56,"c":"0.25","v":3.8},{"t":57,"c":"0.25","v":3.8},{"t":58,"c":"0.25","v":3.8},{"t":59,"c":"0.25","v":3.8},{"t":60,"c":"0.25","v":3.8}
]
},
"concat": [
{
  "width": 580, "height": 284,
  "title": {"text": "mc²155", "anchor": "start", "frame": "group", "dx": -2, "offset": 15},
  "data": {"name": "p1"},
  "resolve": {"scale": {"color": "independent", "fill": "independent", "shape": "independent", "stroke": "independent"}},
  "encoding": {
    "x": {"field": "t", "type": "quantitative", "scale": {"domain": [0, 60], "nice": false, "range": [-13, 580]}, "axis": {"values": [0,10,20,30,40,50,60], "title": "Time (min)", "titlePadding": 33, "labelPadding": 14}},
    "y": {"field": "v", "type": "quantitative", "scale": {"domain": [0, 100], "nice": false}, "axis": {"values": [0,20,40,60,80,100], "title": "Fluorescence (arbitrary units)", "titlePadding": 48.5, "labelPadding": 2, "offset": 13}}
  },
  "layer": [
    {"mark": {"type": "line", "strokeWidth": 1.5}, "encoding": {"color": {"field": "c", "type": "nominal", "scale": {"domain": ["8","4","2","1","0.5","0.25"], "range": ["#FF0000","#0000FF","#00FFFF","#FF9900","#FFFF00","#FF99CC"]}, "legend": null}}},
    {"mark": {"type": "point", "filled": false, "opacity": 1, "size": 100, "strokeWidth": 1.3}, "encoding": {
      "color": {"field": "c", "type": "nominal", "scale": {"domain": ["8","4","2","1","0.5","0.25"], "range": ["#FF0000","#0000FF","#00FFFF","#FF9900","#FFFF00","#FF99CC"]}, "legend": null},
      "fill": {"field": "c", "type": "nominal", "scale": {"domain": ["8","4","2","1","0.5","0.25"], "range": ["#FF0000","#0000FF","#00FFFF","#FF9900","#FFFF00","#FF99CC"]}, "legend": null},
      "shape": {"field": "c", "type": "nominal", "scale": {"domain": ["8","4","2","1","0.5","0.25"], "range": ["circle","M0,-1.15L1.15,0L0,1.15L-1.15,0Z","M-1,-1L1,1M-1,1L1,-1","M0,-1.15L1.2,0.95L-1.2,0.95Z","M-0.7,-0.28H0.7V0.28H-0.7Z","M-1,0H1M0,-1.1V1.1"]}, "legend": null}}},
    {"transform": [{"filter": "datum.t < 0"}], "mark": {"type": "point", "filled": false, "opacity": 1, "size": 100, "strokeWidth": 1.5}, "encoding": {
      "color": {"field": "c", "type": "nominal", "scale": {"domain": ["8","4","2","1","0.5","0.25"], "range": ["#FF0000","#0000FF","#00FFFF","#FF9900","#FFFF00","#FF99CC"]}, "legend": {"orient": "none", "legendX": 607, "legendY": -15, "title": null, "labelExpr": "datum.label + ' mg/L'", "labelFontSize": 18, "labelFont": "Liberation Sans", "labelColor": "#000", "rowPadding": 37, "symbolSize": 100, "symbolStrokeWidth": 1.5, "symbolOffset": 18, "labelOffset": 20, "symbolOpacity": 1, "symbolFillColor": "transparent"}},
      "fill": {"field": "c", "type": "nominal", "scale": {"domain": ["8","4","2","1","0.5","0.25"], "range": ["#FF0000","#0000FF","#00FFFF","#FF9900","#FFFF00","#FF99CC"]}, "legend": {"orient": "none", "legendX": 607, "legendY": -15, "title": null, "labelExpr": "datum.label + ' mg/L'", "labelFontSize": 18, "labelFont": "Liberation Sans", "labelColor": "#000", "rowPadding": 37, "symbolSize": 100, "symbolStrokeWidth": 1.5, "symbolOffset": 18, "labelOffset": 20, "symbolOpacity": 1, "symbolFillColor": "transparent"}},
      "shape": {"field": "c", "type": "nominal", "scale": {"domain": ["8","4","2","1","0.5","0.25"], "range": ["M-4.7,0H4.7M1,0A1,1,0,1,1,-1,0A1,1,0,1,1,1,0Z","M-4.7,0H4.7M0,-1.1L1.1,0L0,1.1L-1.1,0Z","M-4.7,0H4.7M-1.1,-1.1L1.1,1.1M-1.1,1.1L1.1,-1.1","M-4.7,0H4.7M0,-1.2L1.3,1.1L-1.3,1.1Z","M-4.7,0H4.7M-0.7,-0.3H0.7V0.3H-0.7Z","M-4.7,0H4.7M0,-1.1V1.1"]}, "legend": {"orient": "none", "legendX": 607, "legendY": -15, "title": null, "labelExpr": "datum.label + ' mg/L'", "labelFontSize": 18, "labelFont": "Liberation Sans", "labelColor": "#000", "rowPadding": 37, "symbolSize": 100, "symbolStrokeWidth": 1.5, "symbolOffset": 18, "labelOffset": 20, "symbolOpacity": 1, "symbolFillColor": "transparent"}}}}
  ]
},
{
  "width": 590, "height": 291,
  "title": {"text": "XZL1675", "anchor": "start", "frame": "group", "dx": 1, "offset": 28},
  "data": {"name": "p2"},
  "resolve": {"scale": {"color": "independent", "fill": "independent", "shape": "independent", "stroke": "independent"}},
  "encoding": {
    "x": {"field": "t", "type": "quantitative", "scale": {"domain": [0, 60], "nice": false, "range": [-5, 590]}, "axis": {"values": [0,10,20,30,40,50,60], "title": "Time (min)", "titlePadding": 13, "labelPadding": 14}},
    "y": {"field": "v", "type": "quantitative", "scale": {"domain": [0, 100], "nice": false}, "axis": {"values": [0,20,40,60,80,100], "title": "Fluorescence (arbitrary units)", "titlePadding": 43.5, "labelPadding": 2, "offset": 5}}
  },
  "layer": [
    {"mark": {"type": "line", "strokeWidth": 1.5}, "encoding": {"color": {"field": "c", "type": "nominal", "scale": {"domain": ["8","4","2","1","0.5","0.25"], "range": ["#FF0000","#0000FF","#00FFFF","#FF9900","#FFFF00","#FF99CC"]}, "legend": null}}},
    {"mark": {"type": "point", "filled": false, "opacity": 1, "size": 100, "strokeWidth": 1.3}, "encoding": {
      "color": {"field": "c", "type": "nominal", "scale": {"domain": ["8","4","2","1","0.5","0.25"], "range": ["#FF0000","#0000FF","#00FFFF","#FF9900","#FFFF00","#FF99CC"]}, "legend": null},
      "fill": {"field": "c", "type": "nominal", "scale": {"domain": ["8","4","2","1","0.5","0.25"], "range": ["#FF0000","#0000FF","#00FFFF","#FF9900","#FFFF00","#FF99CC"]}, "legend": null},
      "shape": {"field": "c", "type": "nominal", "scale": {"domain": ["8","4","2","1","0.5","0.25"], "range": ["circle","M0,-1.15L1.15,0L0,1.15L-1.15,0Z","M-1,-1L1,1M-1,1L1,-1","M0,-1.15L1.2,0.95L-1.2,0.95Z","M-0.7,-0.28H0.7V0.28H-0.7Z","M-1,0H1M0,-1.1V1.1"]}, "legend": null}}},
    {"transform": [{"filter": "datum.t < 0"}], "mark": {"type": "point", "filled": false, "opacity": 1, "size": 100, "strokeWidth": 1.5}, "encoding": {
      "color": {"field": "c", "type": "nominal", "scale": {"domain": ["8","4","2","1","0.5","0.25"], "range": ["#FF0000","#0000FF","#00FFFF","#FF9900","#FFFF00","#FF99CC"]}, "legend": {"orient": "none", "legendX": 610, "legendY": -1, "title": null, "labelExpr": "datum.label + ' mg/L'", "labelFontSize": 18, "labelFont": "Liberation Sans", "labelColor": "#000", "rowPadding": 35, "symbolSize": 100, "symbolStrokeWidth": 1.5, "symbolOffset": 18, "labelOffset": 20, "symbolOpacity": 1, "symbolFillColor": "transparent"}},
      "fill": {"field": "c", "type": "nominal", "scale": {"domain": ["8","4","2","1","0.5","0.25"], "range": ["#FF0000","#0000FF","#00FFFF","#FF9900","#FFFF00","#FF99CC"]}, "legend": {"orient": "none", "legendX": 610, "legendY": -1, "title": null, "labelExpr": "datum.label + ' mg/L'", "labelFontSize": 18, "labelFont": "Liberation Sans", "labelColor": "#000", "rowPadding": 35, "symbolSize": 100, "symbolStrokeWidth": 1.5, "symbolOffset": 18, "labelOffset": 20, "symbolOpacity": 1, "symbolFillColor": "transparent"}},
      "shape": {"field": "c", "type": "nominal", "scale": {"domain": ["8","4","2","1","0.5","0.25"], "range": ["M-4.7,0H4.7M1,0A1,1,0,1,1,-1,0A1,1,0,1,1,1,0Z","M-4.7,0H4.7M0,-1.1L1.1,0L0,1.1L-1.1,0Z","M-4.7,0H4.7M-1.1,-1.1L1.1,1.1M-1.1,1.1L1.1,-1.1","M-4.7,0H4.7M0,-1.2L1.3,1.1L-1.3,1.1Z","M-4.7,0H4.7M-0.7,-0.3H0.7V0.3H-0.7Z","M-4.7,0H4.7M0,-1.1V1.1"]}, "legend": {"orient": "none", "legendX": 610, "legendY": -1, "title": null, "labelExpr": "datum.label + ' mg/L'", "labelFontSize": 18, "labelFont": "Liberation Sans", "labelColor": "#000", "rowPadding": 35, "symbolSize": 100, "symbolStrokeWidth": 1.5, "symbolOffset": 18, "labelOffset": 20, "symbolOpacity": 1, "symbolFillColor": "transparent"}}}}
  ]
},
{
  "width": 600, "height": 281,
  "title": {"text": "XZL1720", "anchor": "start", "frame": "group", "dx": 16, "offset": 26},
  "data": {"name": "p3"},
  "resolve": {"scale": {"color": "independent", "fill": "independent", "shape": "independent", "stroke": "independent"}},
  "encoding": {
    "x": {"field": "t", "type": "quantitative", "scale": {"domain": [0, 60], "nice": false}, "axis": {"values": [0,10,20,30,40,50,60], "title": "Time (min)", "titlePadding": 17, "labelPadding": 14}},
    "y": {"field": "v", "type": "quantitative", "scale": {"domain": [0, 100], "nice": false}, "axis": {"values": [0,20,40,60,80,100], "title": "Fluorescence (arbitrary units)", "titlePadding": 63.5, "labelPadding": 2}}
  },
  "layer": [
    {"mark": {"type": "line", "strokeWidth": 1.5}, "encoding": {"color": {"field": "c", "type": "nominal", "scale": {"domain": ["8","4","2","1","0.5","0.25"], "range": ["#FF0000","#0000FF","#00FFFF","#FF9900","#FFFF00","#FF99CC"]}, "legend": null}}},
    {"mark": {"type": "point", "filled": false, "opacity": 1, "size": 100, "strokeWidth": 1.3}, "encoding": {
      "color": {"field": "c", "type": "nominal", "scale": {"domain": ["8","4","2","1","0.5","0.25"], "range": ["#FF0000","#0000FF","#00FFFF","#FF9900","#FFFF00","#FF99CC"]}, "legend": null},
      "fill": {"field": "c", "type": "nominal", "scale": {"domain": ["8","4","2","1","0.5","0.25"], "range": ["#FF0000","#0000FF","#00FFFF","#FF9900","#FFFF00","#FF99CC"]}, "legend": null},
      "shape": {"field": "c", "type": "nominal", "scale": {"domain": ["8","4","2","1","0.5","0.25"], "range": ["circle","M0,-1.15L1.15,0L0,1.15L-1.15,0Z","M-1,-1L1,1M-1,1L1,-1","M0,-1.15L1.2,0.95L-1.2,0.95Z","M-0.7,-0.28H0.7V0.28H-0.7Z","M-1,0H1M0,-1.1V1.1"]}, "legend": null}}},
    {"transform": [{"filter": "datum.t < 0"}], "mark": {"type": "point", "filled": false, "opacity": 1, "size": 100, "strokeWidth": 1.5}, "encoding": {
      "color": {"field": "c", "type": "nominal", "scale": {"domain": ["8","4","2","1","0.5","0.25"], "range": ["#FF0000","#0000FF","#00FFFF","#FF9900","#FFFF00","#FF99CC"]}, "legend": {"orient": "none", "legendX": 631, "legendY": 0, "title": null, "labelExpr": "datum.label + ' mg/L'", "labelFontSize": 18, "labelFont": "Liberation Sans", "labelColor": "#000", "rowPadding": 33.5, "symbolSize": 100, "symbolStrokeWidth": 1.5, "symbolOffset": 18, "labelOffset": 20, "symbolOpacity": 1, "symbolFillColor": "transparent"}},
      "fill": {"field": "c", "type": "nominal", "scale": {"domain": ["8","4","2","1","0.5","0.25"], "range": ["#FF0000","#0000FF","#00FFFF","#FF9900","#FFFF00","#FF99CC"]}, "legend": {"orient": "none", "legendX": 631, "legendY": 0, "title": null, "labelExpr": "datum.label + ' mg/L'", "labelFontSize": 18, "labelFont": "Liberation Sans", "labelColor": "#000", "rowPadding": 33.5, "symbolSize": 100, "symbolStrokeWidth": 1.5, "symbolOffset": 18, "labelOffset": 20, "symbolOpacity": 1, "symbolFillColor": "transparent"}},
      "shape": {"field": "c", "type": "nominal", "scale": {"domain": ["8","4","2","1","0.5","0.25"], "range": ["M-4.7,0H4.7M1,0A1,1,0,1,1,-1,0A1,1,0,1,1,1,0Z","M-4.7,0H4.7M0,-1.1L1.1,0L0,1.1L-1.1,0Z","M-4.7,0H4.7M-1.1,-1.1L1.1,1.1M-1.1,1.1L1.1,-1.1","M-4.7,0H4.7M0,-1.2L1.3,1.1L-1.3,1.1Z","M-4.7,0H4.7M-0.7,-0.3H0.7V0.3H-0.7Z","M-4.7,0H4.7M0,-1.1V1.1"]}, "legend": {"orient": "none", "legendX": 631, "legendY": 0, "title": null, "labelExpr": "datum.label + ' mg/L'", "labelFontSize": 18, "labelFont": "Liberation Sans", "labelColor": "#000", "rowPadding": 33.5, "symbolSize": 100, "symbolStrokeWidth": 1.5, "symbolOffset": 18, "labelOffset": 20, "symbolOpacity": 1, "symbolFillColor": "transparent"}}}}
  ]
}
]
}
